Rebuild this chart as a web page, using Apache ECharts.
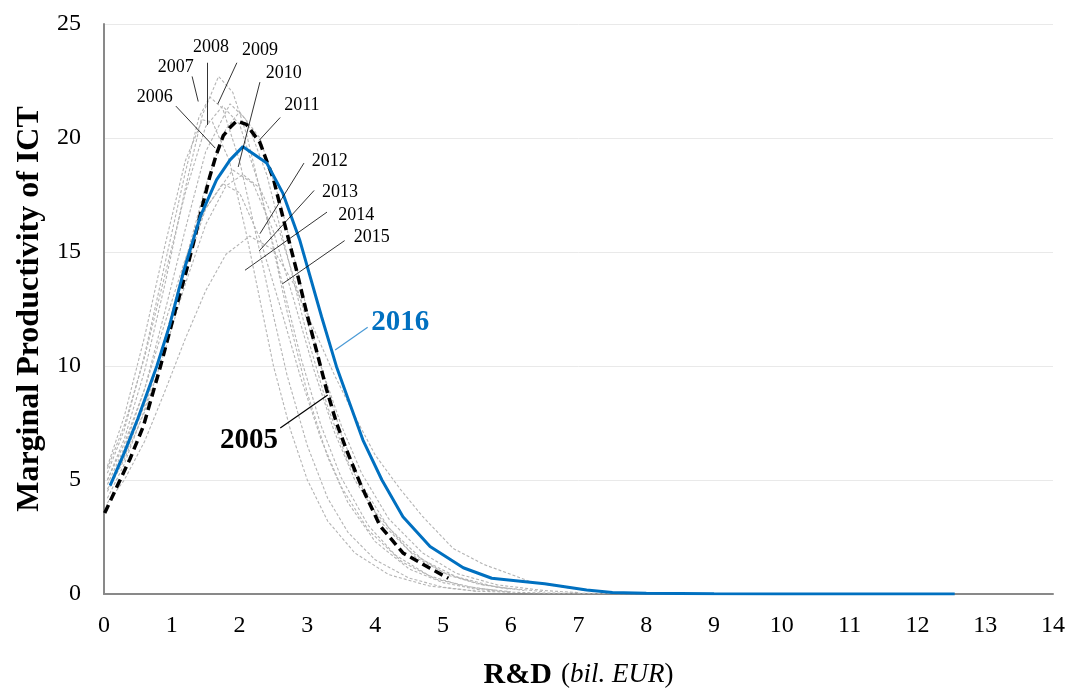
<!DOCTYPE html>
<html>
<head>
<meta charset="utf-8">
<script src="https://cdn.jsdelivr.net/npm/echarts@6/dist/echarts.min.js"></script>
<style>
  html, body { margin: 0; padding: 0; background: #fff; }
  #chart { width: 1069px; height: 691px; }
</style>
</head>
<body>
<div id="chart"></div>
<script>
// Marginal productivity of ICT against R&D spending (bil. EUR), one curve per year.
// Each array holds [R&D, marginal productivity] points.
const xTicks = [0, 1, 2, 3, 4, 5, 6, 7, 8, 9, 10, 11, 12, 13, 14];
const yTicks = [0, 5, 10, 15, 20, 25];

const mp2005 = [[0.01,3.55],[0.19,4.7],[0.38,5.9],[0.58,7.35],[0.83,9.95],[1.03,12.2],[1.2,14.0],[1.32,15.4],[1.45,17.0],[1.56,18.3],[1.66,19.3],[1.76,20.1],[1.87,20.5],[1.96,20.75],[2.1,20.6],[2.3,19.8],[2.5,18.2],[2.65,16.4],[2.84,14.2],[3.0,12.2],[3.15,10.5],[3.28,9.0],[3.43,7.5],[3.58,6.3],[3.78,4.85],[4.07,3.0],[4.41,1.8],[4.81,1.13],[5.08,0.69]];

const mp2006 = [[0.05,5.3],[0.3,7.2],[0.6,10.5],[0.9,14.5],[1.2,18.5],[1.4,20.9],[1.56,21.8],[1.75,21.3],[2.0,19.0],[2.3,15.0],[2.5,12.2],[2.7,9.6],[3.0,6.5],[3.3,4.2],[3.6,2.7],[4.0,1.5],[4.5,0.7],[5.0,0.3],[5.5,0.12]];
const mp2007 = [[0.05,5.0],[0.3,6.8],[0.6,9.8],[0.9,13.6],[1.2,17.8],[1.45,21.0],[1.69,22.7],[1.9,22.0],[2.1,20.2],[2.4,16.5],[2.7,12.4],[3.0,8.8],[3.3,6.0],[3.6,4.0],[4.0,2.3],[4.5,1.1],[5.0,0.5],[5.5,0.2],[6.0,0.08]];
const mp2008 = [[0.05,5.5],[0.3,7.4],[0.6,10.4],[0.9,14.0],[1.2,17.6],[1.5,20.5],[1.75,21.4],[2.0,20.6],[2.3,17.8],[2.6,14.0],[2.9,10.4],[3.2,7.4],[3.5,5.1],[3.9,3.0],[4.3,1.7],[4.8,0.8],[5.3,0.35],[5.8,0.15]];
const mp2009 = [[0.05,4.8],[0.3,6.4],[0.6,9.0],[0.9,12.4],[1.2,16.0],[1.5,19.4],[1.86,21.5],[2.1,20.8],[2.4,18.4],[2.7,14.9],[3.0,11.3],[3.3,8.2],[3.6,5.8],[4.0,3.6],[4.5,1.9],[5.0,0.95],[5.5,0.45],[6.0,0.2]];
const mp2010 = [[0.05,4.6],[0.3,6.0],[0.6,8.3],[0.9,11.2],[1.2,14.2],[1.5,16.9],[1.9,18.6],[2.2,18.0],[2.5,15.9],[2.8,12.9],[3.1,9.8],[3.4,7.1],[3.7,5.0],[4.1,3.1],[4.6,1.6],[5.1,0.8],[5.6,0.4],[6.2,0.15]];
const mp2011 = [[0.05,4.2],[0.3,5.7],[0.6,8.1],[0.9,11.2],[1.2,14.6],[1.5,17.9],[1.8,20.4],[2.0,21.15],[2.3,20.0],[2.6,17.2],[2.9,13.6],[3.2,10.0],[3.5,7.0],[3.8,4.8],[4.2,2.9],[4.7,1.5],[5.2,0.75],[5.8,0.3],[6.5,0.1]];
const mp2012 = [[0.05,4.5],[0.3,5.9],[0.6,8.0],[0.9,10.7],[1.2,13.6],[1.5,16.2],[1.8,17.9],[2.05,18.4],[2.3,17.8],[2.6,15.8],[2.9,12.9],[3.2,10.0],[3.5,7.4],[3.8,5.3],[4.2,3.3],[4.7,1.8],[5.2,0.9],[5.8,0.4],[6.5,0.15],[7.0,0.06]];
const mp2013 = [[0.05,5.0],[0.3,6.6],[0.6,9.0],[0.9,11.9],[1.2,14.7],[1.5,16.9],[1.75,18.0],[2.0,17.6],[2.3,15.6],[2.6,12.6],[2.9,9.5],[3.2,6.8],[3.5,4.7],[3.9,2.8],[4.4,1.4],[4.9,0.65],[5.5,0.25],[6.0,0.1]];
const mp2014 = [[0.05,4.0],[0.3,5.0],[0.6,6.7],[0.9,8.9],[1.2,11.2],[1.5,13.3],[1.8,14.9],[2.15,15.7],[2.5,15.1],[2.8,13.6],[3.1,11.6],[3.4,9.6],[3.7,7.8],[4.0,6.1],[4.37,4.6],[4.7,3.4],[5.15,2.0],[5.6,1.3],[6.33,0.5],[7.0,0.2],[7.5,0.08]];
const mp2015 = [[0.05,5.6],[0.3,7.8],[0.6,11.3],[0.9,15.3],[1.2,19.0],[1.45,20.8],[1.6,20.7],[1.85,19.0],[2.1,15.8],[2.3,12.9],[2.5,10.0],[2.75,7.2],[3.0,5.0],[3.3,3.2],[3.7,1.8],[4.2,0.85],[4.8,0.35],[5.5,0.12],[6.5,0.04],[8.0,0.01],[10.0,0.0],[12.2,0.0]];

const mp2016 = [[0.09,4.75],[0.3,6.2],[0.5,7.7],[0.78,10.0],[0.97,11.8],[1.17,14.1],[1.42,16.55],[1.66,18.16],[1.86,19.04],[2.05,19.62],[2.4,18.9],[2.64,17.57],[2.89,15.5],[3.21,12.16],[3.43,9.97],[3.62,8.4],[3.82,6.75],[4.1,5.0],[4.41,3.39],[4.81,2.08],[5.3,1.15],[5.72,0.69],[6.5,0.45],[7.12,0.18],[7.5,0.07],[8.0,0.03],[9.0,0.01],[10.0,0.0],[11.0,0.0],[12.55,0.0]];

const greyYears = ['2006','2007','2008','2009','2010','2011','2012','2013','2014','2015'];
const greyCurves = [mp2006, mp2007, mp2008, mp2009, mp2010, mp2011, mp2012, mp2013, mp2014, mp2015];

// Year tags: [text, tag x, tag y, leader start x, leader start y, leader end x, leader end y]
const yearTags = [
  ['2006', 0.75, 21.8, 1.06, 21.4, 1.64, 19.56],
  ['2007', 1.06, 23.1, 1.30, 22.7, 1.39, 21.6],
  ['2008', 1.58, 24.0, 1.52, 23.3, 1.52, 20.57],
  ['2009', 2.30, 23.86, 1.96, 23.3, 1.68, 21.5],
  ['2010', 2.65, 22.85, 2.30, 22.45, 1.98, 18.73],
  ['2011', 2.92, 21.45, 2.60, 20.9, 2.29, 19.9],
  ['2012', 3.33, 19.0, 2.95, 18.9, 2.30, 15.8],
  ['2013', 3.48, 17.6, 3.10, 17.7, 2.29, 15.05],
  ['2014', 3.72, 16.6, 3.29, 16.75, 2.08, 14.2],
  ['2015', 3.95, 15.66, 3.55, 15.5, 2.63, 13.6]
];
const boldTags = [
  ['2005', 2.14, 6.75, 2.60, 7.28, 3.30, 8.73, '#000000', '#000000'],
  ['2016', 4.37, 11.9, 3.89, 11.7, 3.41, 10.7, '#0070C0', '#4a9ad6']
];

const serif = '"Liberation Serif", "DejaVu Serif", serif';
const chart = echarts.init(document.getElementById('chart'));

const series = [];
greyCurves.forEach((d, i) => {
  series.push({
    name: greyYears[i], type: 'line', data: d, symbol: 'none',
    lineStyle: { color: '#b4b4b4', width: 1.1, type: [3, 2] }, z: 2, silent: true
  });
});
series.push({
  name: '2005', type: 'line', data: mp2005, symbol: 'none',
  lineStyle: { color: '#000', width: 3.5, type: [9, 5] }, z: 3, silent: true
});
series.push({
  name: '2016', type: 'line', data: mp2016, symbol: 'none',
  lineStyle: { color: '#0070C0', width: 3 }, z: 4, silent: true
});

// Year tags with leader lines
const tagData = yearTags.map(t => ({
  value: [t[1], t[2]], name: t[0],
  label: { fontSize: 18, fontFamily: serif, color: '#000' }
})).concat(boldTags.map(t => ({
  value: [t[1], t[2]], name: t[0],
  label: { fontSize: 29, fontWeight: 'bold', fontFamily: serif, color: t[7] }
})));
const leaderData = yearTags.map(t => [
  { coord: [t[3], t[4]] }, { coord: [t[5], t[6]] }
]).concat(boldTags.map(t => [
  { coord: [t[3], t[4]], lineStyle: { color: t[8], width: 1.2, type: 'solid' } },
  { coord: [t[5], t[6]] }
]));
series.push({
  type: 'scatter', data: tagData, symbolSize: 0, z: 6, silent: true,
  itemStyle: { opacity: 1 },
  label: { show: true, position: 'inside', formatter: p => p.name },
  markLine: {
    silent: true, symbol: 'none', animation: false,
    label: { show: false },
    lineStyle: { color: '#000', width: 0.8, type: 'solid' },
    data: leaderData
  }
});

chart.setOption({
  animation: false,
  backgroundColor: '#ffffff',
  grid: { left: 104, right: 16, top: 24, bottom: 97, containLabel: false, outerBoundsMode: 'none' },
  xAxis: {
    type: 'value', min: xTicks[0], max: xTicks[xTicks.length - 1], interval: 1,
    name: '{b|R&D}{s| }{n|(}{i|bil. EUR}{n|)}',
    nameLocation: 'middle', nameGap: 66,
    nameTextStyle: {
      rich: {
        b: { fontFamily: serif, fontSize: 30, fontWeight: 'bold', color: '#000' },
        s: { fontFamily: serif, fontSize: 27, width: 9, color: '#000' },
        n: { fontFamily: serif, fontSize: 27, color: '#000' },
        i: { fontFamily: serif, fontSize: 27, fontStyle: 'italic', color: '#000' }
      }
    },
    axisLine: { show: true, onZero: false, lineStyle: { color: '#898989', width: 2 } },
    axisTick: { show: false },
    splitLine: { show: false },
    axisLabel: { fontFamily: serif, fontSize: 24, color: '#000', margin: 20 }
  },
  yAxis: {
    type: 'value', min: yTicks[0], max: yTicks[yTicks.length - 1], interval: 5,
    name: 'Marginal Productivity of ICT',
    nameLocation: 'middle', nameGap: 58,
    nameTextStyle: { fontFamily: serif, fontSize: 32, fontWeight: 'bold', color: '#000' },
    axisLine: { show: true, lineStyle: { color: '#898989', width: 2 } },
    axisTick: { show: false },
    splitLine: { show: true, lineStyle: { color: '#e9e9e9', width: 1 } },
    axisLabel: { fontFamily: serif, fontSize: 24, color: '#000', margin: 23 }
  },
  series: series
});
</script>
</body>
</html>
